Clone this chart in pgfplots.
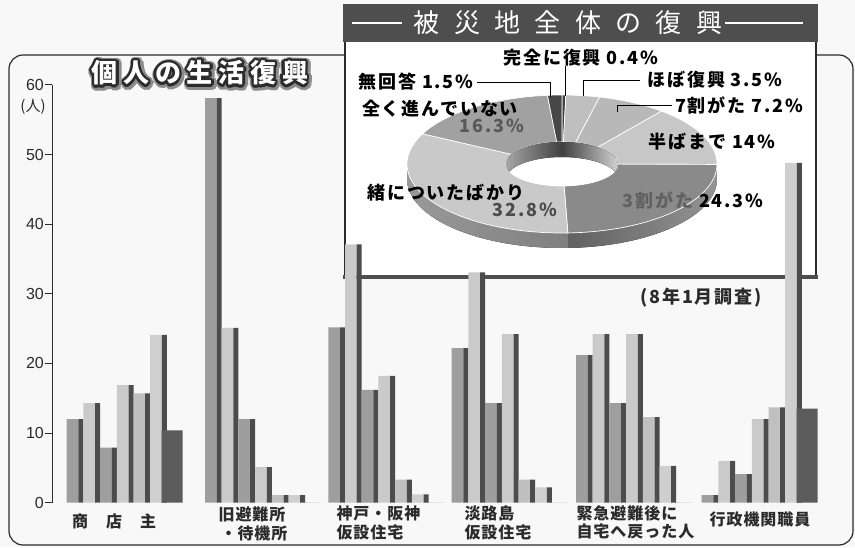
\documentclass[border=0pt]{standalone}
\usepackage{pgfplots}
\pgfplotsset{compat=1.18}
\usepackage{pgfplotstable}
\usepackage{fontspec}
\setmainfont{Liberation Sans}
\newfontfamily\jp{Noto Sans CJK JP}
\newfontfamily\jplab{Noto Sans CJK JP}[LetterSpace=10]
\newfontfamily\jpcat{Noto Sans CJK JP}[LetterSpace=6]
\newfontfamily\jptitle{Noto Sans CJK JP}[LetterSpace=22]
\newfontfamily\jpinset{Noto Sans CJK JP}[LetterSpace=55]

\definecolor{barmed}{HTML}{9E9E9E}
\definecolor{barlight}{HTML}{CACACA}
\definecolor{barside}{HTML}{4C4C4C}
\definecolor{bardark}{HTML}{5C5C5C}
\definecolor{ink}{HTML}{2B2B2B}
\definecolor{paper}{HTML}{F8F8F8}
\definecolor{boxgray}{HTML}{4E4E4E}

% start of each group (pt from the y axis) and the seven bars of each group
\pgfplotstableread{
s v1 v2 v3 v4 v5 v6 v7
14.7 12.0 14.3 7.9 16.9 15.7 24.1 10.4
153.0 58.1 25.1 12.0 5.1 1.1 1.1 0
276.3 25.2 37.1 16.2 18.2 3.3 1.2 0
399.7 22.2 33.1 14.3 24.2 3.3 2.2 0
524.0 21.2 24.2 14.3 24.2 12.3 5.3 0
649.7 1.1 6.0 4.1 12.0 13.7 48.8 13.5
}\bardata

\newcommand{\barpair}[3]{%
  \addplot[fill=#3, draw=none, bar width=11.7, bar shift=0pt]
    table[x expr={\thisrow{s}+16.7*#2+5.85}, y=#1]{\bardata};
  \addplot[fill=barside, draw=none, bar width=5, bar shift=0pt]
    table[x expr={\thisrow{s}+16.7*#2+14.2}, y=#1]{\bardata};
}

% donut: start (cumulative %), share (%), colour
\newcommand{\slice}[3]{%
  \filldraw[fill=#3, draw=white, line width=0.7pt]
    ({155*cos(90-3.6*#1)},{69*sin(90-3.6*#1)})
    arc[start angle={90-3.6*#1}, end angle={90-3.6*(#1+#2)}, x radius=155pt, y radius=69pt]
    -- ({56*cos(90-3.6*(#1+#2))},{22*sin(90-3.6*(#1+#2))})
    arc[start angle={90-3.6*(#1+#2)}, end angle={90-3.6*#1}, x radius=56pt, y radius=22pt]
    -- cycle;
}
\newcommand{\wall}[3]{%
  \fill[#3] ({155*cos(#1)},{69*sin(#1)})
    arc[start angle=#1, end angle=#2, x radius=155pt, y radius=69pt]
    -- ++(0pt,-15pt)
    arc[start angle=#2, end angle=#1, x radius=155pt, y radius=69pt] -- cycle;
}

\begin{document}
\begin{tikzpicture}[x=1pt,y=1pt]
\useasboundingbox (0,0) rectangle (855,547);
\fill[paper] (0,0) rectangle (855,547);
% outer frame
\draw[ink, line width=1.2pt, rounded corners=14pt] (9,2) rectangle (853,492);

% inset box
\fill[white] (345,270) rectangle (816,507);
\draw[ink, line width=1.8pt] (345,270) -- (345,507);
\draw[ink, line width=1.8pt] (816,270) -- (816,507);
\draw[boxgray, line width=3.5pt] (343,270) -- (818,270);
\fill[boxgray] (343,505) rectangle (818,543);
\draw[white, line width=1.6pt] (352,524) -- (402,524);
\draw[white, line width=1.6pt] (725,524) -- (803,524);
\node[text=white, font=\jpinset\fontsize{26}{26}\selectfont] at (568,524) {被災地全体の復興};

% donut chart
\begin{axis}[x=1pt, y=1pt, hide axis, anchor=origin, at={(562pt,383pt)},
  xmin=-160, xmax=160, ymin=-90, ymax=75, clip=false]
  \wall{-0.36}{-87.84}{left color=black!62, right color=black!42}
  \wall{-87.84}{-180}{left color=black!40, right color=black!50}
  \slice{0}{0.4}{black!75}
  \slice{0.4}{3.5}{black!25}
  \slice{3.9}{7.2}{black!28}
  \slice{11.1}{14}{black!22}
  \slice{25.1}{24.3}{black!46}
  \slice{49.4}{32.8}{black!21}
  \slice{82.2}{16.3}{black!37}
  \slice{98.5}{1.5}{black!72}
  \begin{scope}
    \clip (0,0) ellipse[x radius=56pt, y radius=22pt];
    \fill[white] (-60,-30) rectangle (60,30);
    \fill[left color=black!35, right color=black!18, middle color=black!75]
      (56,0) arc[start angle=0, end angle=180, x radius=56pt, y radius=22pt]
      -- ++(0pt,-15pt) arc[start angle=180, end angle=0, x radius=56pt, y radius=22pt] -- cycle;
  \end{scope}
\end{axis}

% donut labels
\begin{scope}[font=\jplab\bfseries\fontsize{18}{18}\selectfont]
\node at (581,489) {完全に復興 0.4\%};
\node at (416,465) {無回答 1.5\%};
\node at (715,467) {ほぼ復興 3.5\%};
\node at (739,442) {7割がた 7.2\%};
\node at (440,438) {全く進んでいない};
\node[text=black!65] at (492,421) {16.3\%};
\node at (712,405) {半ばまで 14\%};
\node at (446,354) {緒についたばかり};
\node[text=black!70] at (525,337) {32.8\%};
\node at (693,347) {\textcolor{black!62}{3割がた} 24.3\%};
\end{scope}
\draw[black, line width=0.8pt] (477,465) -- (550,465) -- (550,450);
\draw[black, line width=0.8pt] (565,481) -- (565,451);
\draw[black, line width=0.8pt] (640,467) -- (583,467) -- (583,451);
\draw[black, line width=0.8pt] (672,442) -- (617,442) -- (617,435);

% bars
\begin{axis}[x=1pt, y=6.962pt, anchor=origin, at={(52pt,44.3pt)},
  xmin=0, xmax=790, ymin=0, ymax=60, clip=false,
  axis x line=none, axis y line*=left, ybar,
  ytick={0,10,...,60}, tick align=outside, major tick length=7pt,
  y axis line style={ink, line width=1pt}, ytick style={ink, line width=1pt},
  yticklabel style={font=\fontsize{16}{16}\selectfont, text=ink, inner sep=1pt},
  /pgf/number format/assume math mode=true]
  \barpair{v1}{0}{barmed}
  \barpair{v2}{1}{barlight}
  \barpair{v3}{2}{barmed}
  \barpair{v4}{3}{barlight}
  \barpair{v5}{4}{barlight!95!black}
  \barpair{v6}{5}{barlight!90!white}
  \addplot[fill=bardark, draw=none, bar width=21, bar shift=0pt]
    table[x expr={\thisrow{s}+105.5}, y=v7]{\bardata};
\end{axis}

\node[font=\jp\fontsize{15}{15}\selectfont, text=ink] at (33,440) {(人)};

% title: white letters with a dark outline and a grey halo
\foreach \a in {0,22.5,...,337.5}{
  \node[text=black!45, font=\jptitle\bfseries\fontsize{26}{26}\selectfont] at ({201+4.5*cos(\a)},{473+4.5*sin(\a)}) {個人の生活復興};
}
\foreach \a in {0,22.5,...,337.5}{
  \node[text=ink, font=\jptitle\bfseries\fontsize{26}{26}\selectfont] at ({200+2.4*cos(\a)},{474+2.4*sin(\a)}) {個人の生活復興};
}
\node[text=white, font=\jptitle\bfseries\fontsize{26}{26}\selectfont] at (200,474) {個人の生活復興};

% category labels
\begin{scope}[font=\jpcat\bfseries\fontsize{16}{16}\selectfont, text=ink]
\node at (114,26) {商\hspace{18pt}店\hspace{18pt}主};
\node at (252,33) {旧避難所};
\node at (254,14) {・待機所};
\node[anchor=west] at (333,34) {神戸・阪神};
\node[anchor=west] at (333,15) {仮設住宅};
\node[anchor=west] at (461,34) {淡路島};
\node[anchor=west] at (461,15) {仮設住宅};
\node[anchor=west] at (573,34) {緊急避難後に};
\node[anchor=west] at (573,16) {自宅へ戻った人};
\node at (760,28) {行政機関職員};
\end{scope}
\node[font=\jplab\bfseries\fontsize{18}{18}\selectfont, text=ink] at (701,249) {(8年1月調査)};
\end{tikzpicture}
\end{document}
